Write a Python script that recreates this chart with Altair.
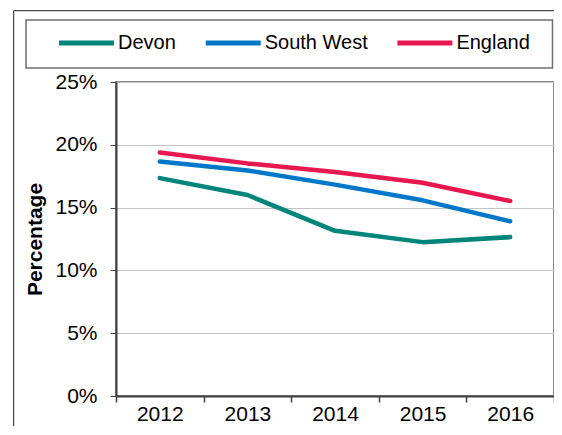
import altair as alt
import pandas as pd

years = ["2012", "2013", "2014", "2015", "2016"]
series = ["Devon", "South West", "England"]
devon = [0.1735, 0.1600, 0.1315, 0.1225, 0.1265]
south_west = [0.1867, 0.1796, 0.1683, 0.1558, 0.1391]
england = [0.1939, 0.1852, 0.1783, 0.1698, 0.1552]
colors = ["#00857A", "#0077C8", "#E8174F"]
y_ticks = [0, 0.05, 0.10, 0.15, 0.20, 0.25]

rows = []
for name, vals in zip(series, [devon, south_west, england]):
    for yr, v in zip(years, vals):
        rows.append({"Year": yr, "Area": name, "Value": v})
df = pd.DataFrame(rows)

FONT = "Liberation Sans"
W, H = 438, 314

lines = alt.Chart(df).mark_line(strokeWidth=4.5, strokeCap="round", strokeJoin="round").encode(
    x=alt.X("Year:N", sort=years,
            scale=alt.Scale(type="band", paddingInner=0, paddingOuter=0),
            axis=alt.Axis(title=None, labelAngle=0, labelFontSize=21, labelFont=FONT,
                          labelColor="#000000", tickBand="extent", tickSize=6,
                          tickColor="#404040", tickWidth=1.5, domainColor="#404040",
                          domainWidth=2, labelPadding=1, grid=False)),
    y=alt.Y("Value:Q",
            scale=alt.Scale(domain=[0, 0.25], nice=False, zero=True),
            axis=alt.Axis(values=y_ticks, format=".0%", title="Percentage",
                          titleFont=FONT, titleFontSize=21, titleFontWeight="bold",
                          titleColor="#000000", titleX=-74.5, titleY=H / 2,
                          titleAngle=270, titleAlign="center", titleBaseline="alphabetic",
                          labelFontSize=21, labelFont=FONT, labelColor="#000000",
                          labelPadding=13, tickSize=6, tickColor="#404040",
                          domainColor="#404040", domainWidth=2,
                          gridColor="#c4c4c4", gridWidth=1)),
    color=alt.Color("Area:N", sort=series,
                    scale=alt.Scale(domain=series, range=colors),
                    legend=alt.Legend(orient="none", legendX=-59.5, legendY=-69,
                                      direction="horizontal", title=None,
                                      symbolType="stroke", symbolSize=3025,
                                      symbolStrokeWidth=5, labelFontSize=20,
                                      labelFont=FONT, labelColor="#000000",
                                      labelOffset=1.5, columnPadding=18.7, padding=0)),
)

box = pd.DataFrame({"k": [0]})
legend_box = alt.Chart(box).mark_rect(fill=None, stroke="#707070", strokeWidth=1.5).encode(
    x=alt.value(-90), x2=alt.value(436.5), y=alt.value(-62), y2=alt.value(-14)
)
outer_frame = alt.Chart(box).mark_rect(fill=None, stroke="#202020", strokeWidth=1).encode(
    x=alt.value(-102.3), x2=alt.value(480), y=alt.value(-71.3), y2=alt.value(400)
)

chart = alt.layer(outer_frame, legend_box, lines).properties(
    width=W, height=H,
    autosize=alt.AutoSizeParams(type="none"),
    padding={"left": 108, "top": 74, "right": 0, "bottom": 30},
).configure_view(stroke="#8a8a8a", strokeWidth=2)

chart.save("out.html", embed_options={"renderer": "svg", "actions": False})
